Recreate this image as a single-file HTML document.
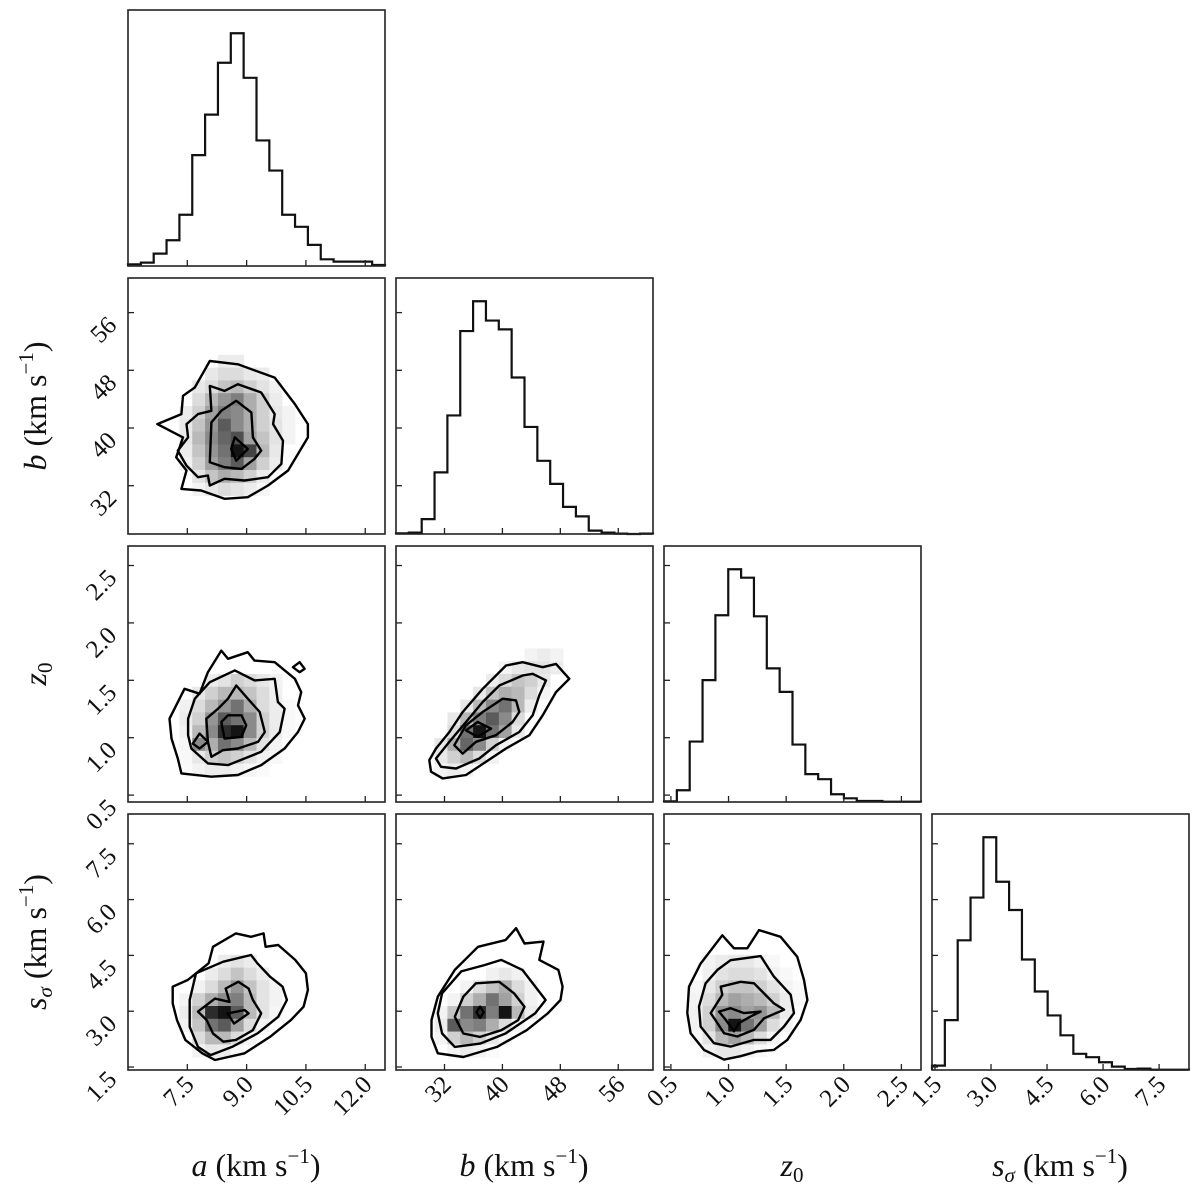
<!DOCTYPE html>
<html><head><meta charset="utf-8"><title>Corner plot</title>
<style>
html,body{margin:0;padding:0;background:#fff;}
svg{display:block;}
text{font-family:"Liberation Serif",serif;fill:#111;}
</style></head>
<body>
<svg id="chart" width="1200" height="1190" viewBox="0 0 1200 1190" xmlns="http://www.w3.org/2000/svg"></svg>
<script>
// ---- axis limits ----
const aRange = [6.0, 12.5];
const bRange = [25.3, 60.8];
const zRange = [0.44, 2.67];
const sRange = [1.42, 8.3];
// ---- tick labels ----
const aTicks = [7.5, 9.0, 10.5, 12.0];
const aTickLabels = ["7.5", "9.0", "10.5", "12.0"];
const bTicks = [32, 40, 48, 56];
const bTickLabels = ["32", "40", "48", "56"];
const zTicks = [0.5, 1.0, 1.5, 2.0, 2.5];
const zTickLabels = ["0.5", "1.0", "1.5", "2.0", "2.5"];
const sTicks = [1.5, 3.0, 4.5, 6.0, 7.5];
const sTickLabels = ["1.5", "3.0", "4.5", "6.0", "7.5"];
// ---- 1D histogram counts (20 bins each) ----
const histA = [5,10,37,77,153,331,452,607,695,562,375,285,153,117,63,20,13,13,13,3];
const histB = [2,4,44,182,350,599,687,630,604,462,316,216,148,80,52,10,4,1,0,1];
const histZ = [2,35,180,363,556,693,668,553,398,328,171,83,68,23,11,3,3,1,1,1];
const histS = [13,148,385,512,691,559,475,328,233,162,103,48,38,23,10,3,4,1,1,1];
// ---- 2D heatmaps: [rowFromTop, startCol, densities] ----
const heatAB = [
 [6,7,[.08,.08]],[7,6,[.1,.15,.15,.1,.08]],[8,5,[.1,.15,.25,.3,.2,.12,.06]],
 [9,5,[.15,.3,.45,.55,.35,.2,.08]],[10,4,[.08,.2,.4,.55,.5,.35,.2,.1,.05]],
 [11,4,[.1,.25,.45,.7,.5,.35,.2,.12,.05]],[12,4,[.1,.3,.5,.65,.75,.4,.25,.12,.05]],
 [13,4,[.08,.25,.45,.6,1.0,.8,.3,.1]],[14,4,[.06,.2,.4,.55,.7,.4,.2,.08]],
 [15,5,[.12,.25,.35,.3,.2,.08]],[16,5,[.05,.1,.15,.12,.08,.04]]];
const heatAZ = [
 [10,6,[.08,.12,.2,.15,.1,.05]],[11,5,[.1,.2,.3,.3,.25,.15,.06]],
 [12,4,[.06,.15,.3,.45,.6,.35,.15,.08,.03]],[13,4,[.08,.2,.45,.7,.6,.5,.2,.08,.03]],
 [14,4,[.06,.3,.5,.9,1.0,.5,.2,.08,.03]],[15,4,[.04,.5,.35,.6,.5,.3,.12,.05]],
 [16,4,[.03,.1,.2,.25,.2,.12,.06,.03]],[17,4,[.02,.05,.08,.08,.06,.04,.02]]];
const heatBZ = [
 [8,10,[.05,.08,.05]],[9,8,[.05,.1,.12,.12,.08]],[10,7,[.08,.15,.25,.2,.1]],
 [11,6,[.1,.25,.35,.3,.15,.05]],[12,5,[.1,.3,.5,.6,.3,.08]],[13,4,[.1,.3,.55,.7,.5,.15]],
 [14,4,[.15,.6,1.0,.6,.4,.1]],[15,3,[.1,.35,.65,.5,.2,.05]],[16,3,[.1,.2,.3,.15,.05]],
 [17,3,[.05,.08,.05]]];
const heatAS = [
 [11,7,[.08,.12,.08]],[12,6,[.08,.15,.25,.15,.08]],[13,5,[.06,.15,.3,.45,.25,.12,.05]],
 [14,4,[.05,.2,.35,.5,.55,.3,.12,.05]],[15,4,[.08,.3,.9,1.0,.7,.3,.12,.04]],
 [16,4,[.05,.25,.6,.7,.4,.15,.05]],[17,5,[.15,.3,.3,.15,.05]],[18,5,[.05,.1,.08,.03]]];
const heatBS = [
 [12,7,[.06,.1,.06]],[13,5,[.05,.15,.25,.35,.15,.06]],[14,4,[.05,.2,.35,.6,.4,.2,.06]],
 [15,3,[.05,.25,.6,.9,.55,1.0,.3,.08]],[16,3,[.08,.7,.5,.55,.35,.15,.05]],
 [17,3,[.05,.2,.3,.2,.1,.04]],[18,4,[.05,.08,.05,.02]]];
const heatZS = [
 [11,3,[.05,.08,.1,.1,.06,.03]],[12,3,[.06,.12,.15,.15,.12,.06,.03]],
 [13,2,[.04,.1,.2,.25,.25,.2,.12,.05,.02]],[14,2,[.05,.15,.3,.4,.35,.3,.2,.08,.03]],
 [15,2,[.06,.2,.45,.5,.4,.45,.3,.08]],[16,2,[.05,.2,.5,1.0,.6,.4,.15,.05]],
 [17,2,[.04,.12,.3,.4,.3,.15,.05]],[18,3,[.06,.1,.1,.06,.03]]];
// ---- contour rings (data coordinates) ----
const contAB = [
 [[6.74,40.54],[7.35,41.92],[7.39,44.46],[7.69,45.61],[8.07,49.29],[8.78,48.83],[9.71,46.99],[10.22,43.31],[10.55,40.54],[10.55,38.70],[10.05,34.10],[9.54,32.03],[9.03,30.41],[8.44,30.18],[7.85,31.33],[7.35,31.56],[7.48,34.10],[7.22,35.94],[7.39,38.70]],
 [[7.48,40.54],[7.77,41.92],[8.11,42.38],[8.07,45.84],[8.44,45.15],[8.78,46.07],[9.37,44.92],[9.71,41.92],[9.67,40.54],[9.92,38.24],[9.88,35.02],[9.54,33.18],[8.95,32.72],[8.44,32.95],[8.07,32.03],[8.02,33.41],[7.77,33.18],[7.48,34.79],[7.26,36.86],[7.52,38.70]],
 [[8.11,40.77],[8.36,42.38],[8.74,43.77],[9.12,42.15],[9.16,38.70],[9.37,36.86],[9.20,35.71],[8.87,34.33],[8.44,34.56],[8.07,35.25]],
 [[8.70,38.70],[9.03,37.09],[8.74,35.48],[8.61,37.09]]];
const contAZ = [
 [[7.05,1.166],[7.43,1.426],[7.81,1.383],[8.02,1.571],[8.36,1.759],[8.53,1.687],[9.03,1.745],[9.20,1.672],[9.71,1.658],[10.22,1.513],[10.38,1.397],[10.30,1.282],[10.47,1.166],[10.30,1.050],[9.96,0.906],[9.37,0.761],[8.78,0.675],[8.11,0.660],[7.35,0.689],[7.26,0.819],[7.10,0.993]],
 [[10.17,1.614],[10.34,1.658],[10.47,1.600],[10.34,1.571]],
 [[7.52,1.166],[7.69,1.340],[8.07,1.484],[8.70,1.586],[9.20,1.499],[9.71,1.513],[9.79,1.311],[9.96,1.253],[9.84,1.050],[9.37,0.877],[8.53,0.761],[8.02,0.776],[7.60,0.906],[7.52,1.022]],
 [[7.98,1.166],[8.28,1.253],[8.53,1.340],[8.74,1.455],[9.03,1.340],[9.33,1.224],[9.46,1.050],[9.29,0.964],[8.78,0.906],[8.40,0.891],[8.11,0.834],[8.02,0.964]],
 [[8.36,1.137],[8.53,1.195],[8.87,1.195],[8.99,1.108],[8.87,1.007],[8.44,0.993]],
 [[7.64,0.949],[7.81,1.036],[8.02,0.964],[7.81,0.906]]];
const contBZ = [
 [[29.90,0.805],[30.82,0.906],[32.67,1.050],[34.51,1.224],[37.27,1.426],[40.49,1.629],[42.80,1.658],[45.56,1.614],[47.40,1.643],[49.24,1.513],[47.40,1.397],[45.56,1.195],[43.72,1.022],[40.49,0.906],[37.73,0.790],[34.97,0.675],[31.75,0.646],[30.13,0.704]],
 [[30.82,0.819],[32.67,0.964],[34.97,1.137],[37.27,1.311],[39.57,1.455],[42.80,1.542],[44.18,1.557],[46.02,1.499],[45.10,1.369],[44.18,1.195],[42.33,1.050],[39.11,0.935],[36.81,0.819],[33.59,0.732],[31.52,0.747]],
 [[33.36,0.935],[34.97,1.108],[37.27,1.224],[40.03,1.340],[41.87,1.325],[42.33,1.224],[41.41,1.137],[39.11,1.022],[36.35,0.964],[34.51,0.862]],
 [[34.97,1.065],[36.58,1.137],[38.42,1.079],[36.58,1.007]]];
const contAS = [
 [[7.13,3.66],[7.51,3.84],[8.04,4.29],[8.15,4.73],[8.73,5.09],[9.11,5.00],[9.43,5.09],[9.48,4.73],[9.80,4.78],[10.23,4.38],[10.50,4.02],[10.55,3.57],[10.44,3.12],[10.12,2.76],[9.59,2.31],[8.95,1.87],[8.20,1.69],[7.88,1.87],[7.45,2.23],[7.24,2.76],[7.13,3.21]],
 [[7.56,3.30],[7.72,4.02],[8.41,4.33],[9.11,4.51],[9.27,4.29],[9.59,3.93],[9.91,3.66],[10.02,3.30],[9.80,2.85],[9.27,2.40],[8.63,2.04],[8.09,1.82],[7.77,2.04],[7.56,2.58]],
 [[7.77,2.99],[8.20,3.34],[8.57,3.25],[8.47,3.61],[8.79,3.79],[9.05,3.61],[9.16,3.30],[9.37,2.94],[9.16,2.49],[8.73,2.23],[8.41,2.18],[8.15,2.40],[7.99,2.76]],
 [[8.52,2.94],[8.95,3.03],[9.05,2.94],[8.68,2.67]]];
const contBS = [
 [[30.21,2.76],[31.08,3.39],[33.42,4.11],[36.63,4.73],[40.43,4.91],[41.89,5.23],[43.05,4.82],[45.68,4.87],[45.09,4.38],[47.73,4.11],[48.31,3.66],[48.02,3.30],[46.26,2.94],[43.35,2.49],[39.25,2.04],[34.59,1.77],[31.08,1.87],[30.21,2.31]],
 [[31.08,2.94],[31.67,3.48],[34.30,4.07],[37.51,4.24],[39.84,4.38],[42.76,4.11],[45.97,3.30],[44.51,2.94],[40.43,2.40],[36.92,2.13],[33.42,2.04],[31.67,2.40]],
 [[33.42,2.85],[34.59,3.39],[36.34,3.75],[39.55,3.79],[41.60,3.48],[43.05,3.12],[42.18,2.76],[39.84,2.49],[36.92,2.31],[34.59,2.40]],
 [[36.42,2.97],[36.92,3.12],[37.42,2.97],[36.92,2.82]]];
const contZS = [
 [[0.657,3.66],[0.758,4.28],[0.946,5.04],[1.047,4.69],[1.163,4.69],[1.264,5.18],[1.452,5.00],[1.597,4.46],[1.655,3.84],[1.684,3.30],[1.626,2.77],[1.510,2.23],[1.394,1.96],[1.250,1.92],[1.105,1.79],[0.961,1.70],[0.787,1.96],[0.671,2.41],[0.642,2.95]],
 [[0.744,3.12],[0.801,3.75],[0.903,4.11],[1.018,4.37],[1.279,4.48],[1.394,3.93],[1.539,3.44],[1.568,2.95],[1.481,2.59],[1.365,2.23],[1.221,2.23],[1.018,2.05],[0.874,2.14],[0.758,2.59]],
 [[0.845,2.95],[0.946,3.44],[0.932,3.66],[1.105,3.79],[1.221,3.75],[1.394,3.21],[1.481,3.04],[1.308,2.81],[1.221,2.50],[1.076,2.32],[0.961,2.41],[0.903,2.68]],
 [[0.917,2.99],[1.018,3.08],[1.134,2.95],[1.279,2.99],[1.192,2.86],[1.091,2.68],[1.047,2.46],[0.975,2.77]]];

const NS = "http://www.w3.org/2000/svg";
const svg = document.getElementById("chart");
const colL = [128, 396, 664, 932], rowT = [10, 278, 546, 814], PW = 257, PH = 256;
function mk(tag, attrs, parent) {
  const e = document.createElementNS(NS, tag);
  for (const k in attrs) e.setAttribute(k, attrs[k]);
  (parent || svg).appendChild(e);
  return e;
}
function xScale(c, r) { return v => colL[c] + (v - r[0]) / (r[1] - r[0]) * PW; }
function yScale(rw, r) { return v => rowT[rw] + PH - (v - r[0]) / (r[1] - r[0]) * PH; }

const vars = [
  {r: aRange, t: aTicks, tl: aTickLabels, h: histA},
  {r: bRange, t: bTicks, tl: bTickLabels, h: histB},
  {r: zRange, t: zTicks, tl: zTickLabels, h: histZ},
  {r: sRange, t: sTicks, tl: sTickLabels, h: histS}];
const varNames = ["a", "b", "z0", "s-sigma"];

function frame(c, rw, name) {
  const g = mk("g", {});
  
  
  return g;
}
function ticks(g, c, rw, showX, showY) {
  const vx = vars[c], x = xScale(c, vx.r);
  vx.t.forEach((v, i) => {
    const X = x(v);
    const tk = mk("line", {x1: X, x2: X, y1: rowT[rw] + PH, y2: rowT[rw] + PH - 6, stroke: "#222", "stroke-width": 1.3}, g);
    
    
    if (showX) {
      const ax = X + 8, ay = rowT[rw] + PH + 16;
      const t = mk("text", {x: ax, y: ay, "text-anchor": "end", "font-size": 25, transform: `rotate(-45 ${ax} ${ay})`}, g);
      t.textContent = vx.tl[i];
      
      
    }
  });
  if (rw > 0) {
    const vy = vars[rw], y = yScale(rw, vy.r);
    vy.t.forEach((v, i) => {
      const Y = y(v);
      const tk = mk("line", {x1: colL[c], x2: colL[c] + 6, y1: Y, y2: Y, stroke: "#222", "stroke-width": 1.3}, g);
      
      
      if (showY) {
        const ax = colL[c] - 10, ay = Y + 14;
        const t = mk("text", {x: ax, y: ay, "text-anchor": "end", "font-size": 25, transform: `rotate(-45 ${ax} ${ay})`}, g);
        t.textContent = vy.tl[i];
        
        
      }
    });
  }
}
function box(g, c, rw) {
  const b = mk("rect", {x: colL[c], y: rowT[rw], width: PW, height: PH, fill: "none", stroke: "#222", "stroke-width": 1.6}, g);
  
  
}

// diagonal histograms
for (let k = 0; k < 4; k++) {
  const g = frame(k, k, "histogram-" + varNames[k]);
  const v = vars[k], x = xScale(k, v.r);
  const ymax = Math.max(...v.h) * 1.1;
  const y = c => rowT[k] + PH - c / ymax * PH;
  const bw = (v.r[1] - v.r[0]) / v.h.length;
  let d = `M${x(v.r[0])},${y(0)}`;
  v.h.forEach((c, i) => {
    d += ` L${x(v.r[0] + i * bw)},${y(c)} L${x(v.r[0] + (i + 1) * bw)},${y(c)}`;
  });
  d += ` L${x(v.r[1])},${y(0)}`;
  const p = mk("path", {d: d, fill: "none", stroke: "#111", "stroke-width": 2.2, "stroke-linejoin": "miter"}, g);
  
  
  ticks(g, k, k, k === 3, false);
  box(g, k, k);
}

// 2D panels
const pairs = [
  {c: 0, r: 1, heat: heatAB, cont: contAB},
  {c: 0, r: 2, heat: heatAZ, cont: contAZ},
  {c: 1, r: 2, heat: heatBZ, cont: contBZ},
  {c: 0, r: 3, heat: heatAS, cont: contAS},
  {c: 1, r: 3, heat: heatBS, cont: contBS},
  {c: 2, r: 3, heat: heatZS, cont: contZS}];
pairs.forEach(p => {
  const g = frame(p.c, p.r, "density-" + varNames[p.r] + "-vs-" + varNames[p.c]);
  const vx = vars[p.c].r, vy = vars[p.r].r;
  const x = xScale(p.c, vx), y = yScale(p.r, vy);
  const bx = (vx[1] - vx[0]) / 20, by = (vy[1] - vy[0]) / 20;
  p.heat.forEach(row => {
    row[2].forEach((d, i) => {
      const col = row[1] + i;
      const x0 = x(vx[0] + col * bx), x1 = x(vx[0] + (col + 1) * bx);
      const y0 = y(vy[1] - row[0] * by), y1 = y(vy[1] - (row[0] + 1) * by);
      const gv = Math.round(255 - d * 235);
      const cell = mk("rect", {x: x0, y: y0, width: x1 - x0 + 0.3, height: y1 - y0 + 0.3, fill: `rgb(${gv},${gv},${gv})`}, g);
      
      
    });
  });
  p.cont.forEach(ring => {
    const pts = ring.map(q => x(q[0]).toFixed(1) + "," + y(q[1]).toFixed(1)).join(" ");
    const pl = mk("polygon", {points: pts, fill: "none", stroke: "#000", "stroke-width": 2.4, "stroke-linejoin": "round"}, g);
    
    
  });
  ticks(g, p.c, p.r, p.r === 3, p.c === 0);
  box(g, p.c, p.r);
});
</script>
<!-- axis titles -->
<svg width="1200" height="1190" style="position:absolute;left:0;top:0;pointer-events:none" xmlns="http://www.w3.org/2000/svg">
  <text x="256" y="1176" text-anchor="middle" font-size="32"><tspan font-style="italic">a</tspan> (km s<tspan dy="-13" font-size="21">−1</tspan><tspan dy="13">)</tspan></text>
  <text x="524" y="1176" text-anchor="middle" font-size="32"><tspan font-style="italic">b</tspan> (km s<tspan dy="-13" font-size="21">−1</tspan><tspan dy="13">)</tspan></text>
  <text x="792" y="1176" text-anchor="middle" font-size="32"><tspan font-style="italic">z</tspan><tspan dy="6" font-size="21">0</tspan></text>
  <text x="1060" y="1176" text-anchor="middle" font-size="32"><tspan font-style="italic">s</tspan><tspan dy="6" font-size="21" font-style="italic">σ</tspan><tspan dy="-6"> (km s</tspan><tspan dy="-13" font-size="21">−1</tspan><tspan dy="13">)</tspan></text>
  <text x="46" y="406" text-anchor="middle" font-size="32" transform="rotate(-90 46 406)"><tspan font-style="italic">b</tspan> (km s<tspan dy="-13" font-size="21">−1</tspan><tspan dy="13">)</tspan></text>
  <text x="46" y="674" text-anchor="middle" font-size="32" transform="rotate(-90 46 674)"><tspan font-style="italic">z</tspan><tspan dy="6" font-size="21">0</tspan></text>
  <text x="46" y="942" text-anchor="middle" font-size="32" transform="rotate(-90 46 942)"><tspan font-style="italic">s</tspan><tspan dy="6" font-size="21" font-style="italic">σ</tspan><tspan dy="-6"> (km s</tspan><tspan dy="-13" font-size="21">−1</tspan><tspan dy="13">)</tspan></text>
</svg>
</body></html>
